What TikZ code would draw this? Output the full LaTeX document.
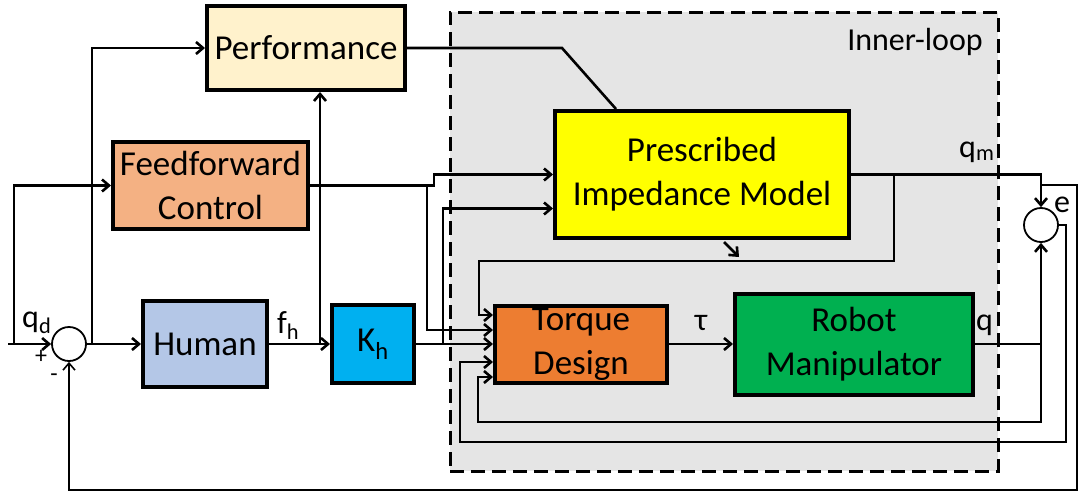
\documentclass[tikz,border=0pt]{standalone}
\usepackage{fontspec}
\setmainfont{Carlito}
\usepackage{xcolor}
\definecolor{clPerf}{HTML}{FFF2CC}
\definecolor{clFeed}{HTML}{F4B183}
\definecolor{clHuman}{HTML}{B4C7E7}
\definecolor{clGain}{HTML}{00B0F0}
\definecolor{clModel}{HTML}{FFFF00}
\definecolor{clTorque}{HTML}{ED7D31}
\definecolor{clRobot}{HTML}{00B050}
\definecolor{clLoop}{HTML}{E5E5E5}
\usepackage{tikz}
\usetikzlibrary{arrows.meta,positioning,calc}
\tikzset{
  box/.style={rectangle, draw, line width=4pt, align=center, inner sep=0pt,
              font=\fontsize{35}{44}\selectfont},
  perfblk/.style={box, fill=clPerf},
  feedblk/.style={box, fill=clFeed},
  humanblk/.style={box, fill=clHuman},
  gainblk/.style={box, fill=clGain},
  modelblk/.style={box, fill=clModel},
  torqueblk/.style={box, fill=clTorque},
  robotblk/.style={box, fill=clRobot},
  sumnode/.style={circle, draw, line width=1.8pt, fill=white, minimum size=34, inner sep=0pt},
  loopbox/.style={rectangle, draw, dash pattern=on 14pt off 7pt, line width=3pt, fill=clLoop},
  flow/.style={-{Straight Barb[length=7pt, width=12pt]}, line width=2.6pt},
  wire/.style={line width=2.6pt},
  fback/.style={-{Straight Barb[length=7pt, width=12pt]}, line width=1.6pt},
  sig/.style={font=\fontsize{32}{36}\selectfont, inner sep=0pt},
  signlabel/.style={font=\fontsize{24}{26}\selectfont, inner sep=0pt},
}

\begin{document}
\begin{tikzpicture}[x=1pt, y=-1pt]
  \useasboundingbox (0,0) rectangle (1082,493);
  % inner loop
  \node[loopbox, minimum width=548, minimum height=459] (inner) at (724,241.5) {};
  \node[sig, anchor=base east] (innerlbl) at (983,50) {Inner-loop};

  % blocks
  \node[perfblk, minimum width=198, minimum height=84] (perf) at (306,48) {Performance};
  \node[feedblk, minimum width=195, minimum height=87] (ff) at (210.5,185.5) {Feedforward\\Control};
  \node[humanblk, minimum width=124, minimum height=86] (human) at (205,344) {Human};
  \node[gainblk, minimum width=82, minimum height=78] (kh) at (373,344) {K\textsubscript{h}};
  \node[modelblk, minimum width=294, minimum height=127] (imodel) at (702,174.5) {Prescribed\\Impedance Model};
  \node[torqueblk, minimum width=172, minimum height=77] (torque) at (581,344) {Torque\\Design};
  \node[robotblk, minimum width=238, minimum height=101] (robot) at (854,344) {Robot\\Manipulator};
  \node[sumnode] (sum1) at (69,344) {};
  \node[sumnode] (sume) at (1041,225) {};

  % labels
  \node[sig, anchor=base west] (qdlbl) at (22,327) {q\textsubscript{d}};
  \node[signlabel] (plus) at (41,357) {+};
  \node[signlabel] (minus) at (54,378) {-};
  \node[sig, anchor=base west] (fhlbl) at (277,333) {f\textsubscript{h}};
  \node[sig, anchor=base] (taulbl) at (701,330) {τ};
  \node[sig, anchor=base west] (qmlbl) at (959,157) {q\textsubscript{m}};
  \node[sig, anchor=base west] (qlbl) at (976,330) {q};
  \node[sig, anchor=base west] (elbl) at (1054,212) {e};

  % outer loop
  \coordinate (qin) at (8,344);
  \coordinate (qsplit) at (14,344);
  \coordinate (esplit) at (92,344);
  \coordinate (fsplit) at (320,344);
  \coordinate (ksplit) at (443,344);
  \draw[flow] (qin) -- (sum1.west);
  \draw[flow] (qsplit) |- (ff.west);
  \draw[flow] (sum1.east) -- (human.west);
  \draw[flow] (esplit) |- (perf.west);
  \draw[flow] (human.east) -- (kh.west);
  \draw[flow] (fsplit) -- (fsplit |- perf.south);
  \draw[flow] (kh.east) -- (torque.west);
  \draw[flow] (ksplit) |- ($(imodel.west)+(0,34)$);
  \draw[flow] (ff.east) -- ++(124,0) |- (imodel.west);
  \draw[flow] ($(ff.east)+(117,0)$) |- ($(torque.west)+(0,-14)$);
  \draw[wire] (perf.east) -- ++(155,0) -- ($(imodel.north west)+(63,0)$);

  % inner loop signals
  \coordinate (msplit) at ($(imodel.east)+(43,0)$);
  \coordinate (qtap) at (1041,344);
  \coordinate (mtap) at (1041,185);
  \draw[flow] (torque.east) -- (robot.west);
  \draw[flow] (imodel.east) -| (sume.north);
  \draw[flow] (msplit) |- (479,261) |- ($(torque.west)+(0,-29)$);
  \draw[flow] ($(imodel.south)+(22,2)$) -- ++(15,15);
  \draw[flow] (robot.east) -| (sume.south);
  \draw[flow] (qtap) |- (478,422) |- ($(torque.west)+(0,33)$);
  \draw[flow] (sume.east) -| (1066,442) -- (460,442) |- ($(torque.west)+(0,18)$);
  \draw[fback] (mtap) -- (1077,185) -- (1077,490) -| (sum1.south);
\end{tikzpicture}
\end{document}
